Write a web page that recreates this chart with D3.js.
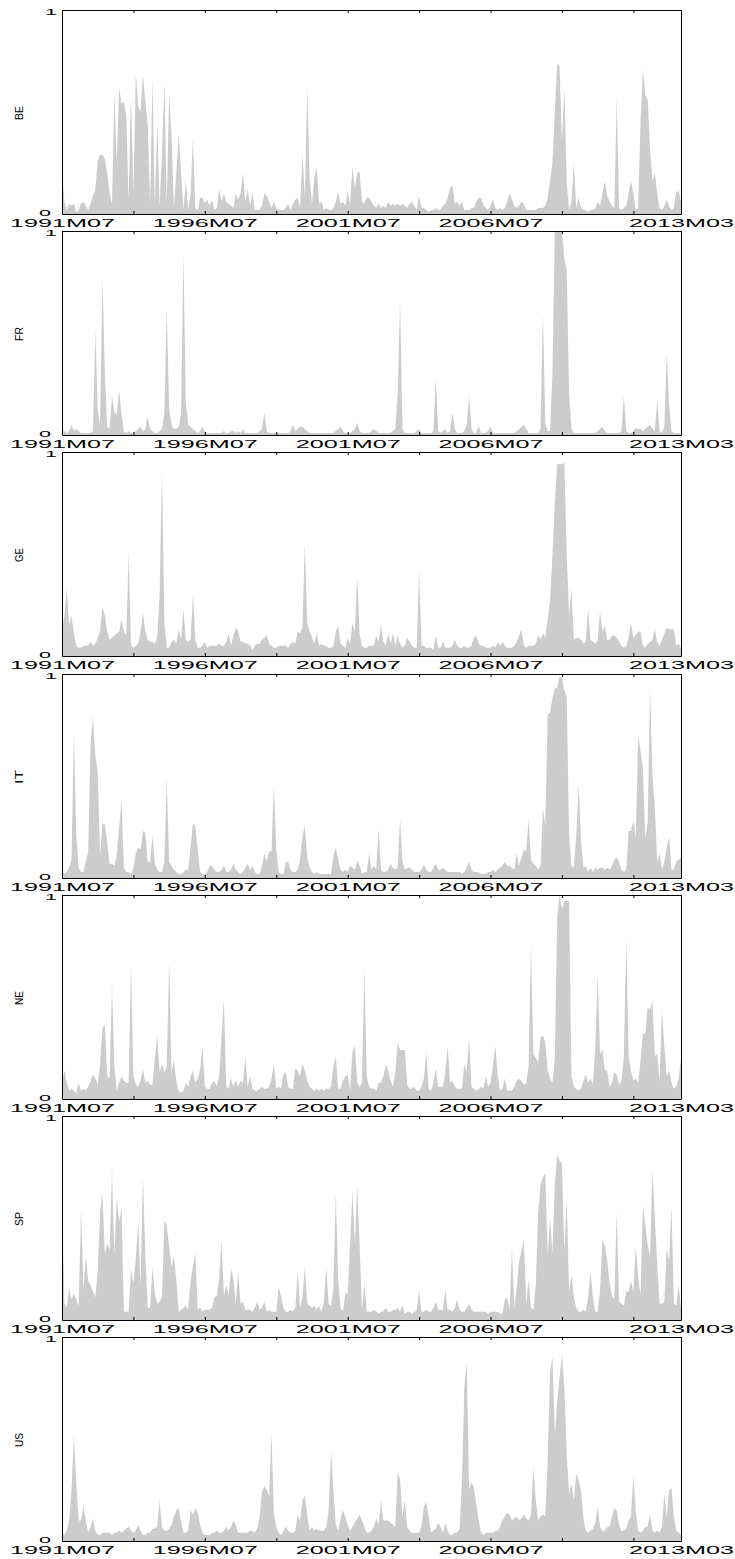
<!DOCTYPE html>
<html>
<head>
<meta charset="utf-8">
<script src="https://cdn.jsdelivr.net/npm/d3@7"></script>
<style>
  body { margin: 0; background: #fff; }
  svg { display: block; font-family: "Liberation Sans", Arial, Helvetica, sans-serif; }
</style>
</head>
<body>
<svg id="chart" width="735" height="1559"></svg>
<script>
// monthly observations 1991M07 .. 2013M03 (index 0..260)
const tickIdx = [0, 30, 60, 90, 120, 150, 180, 210, 240, 260];
const labelIdx = [0, 60, 120, 180, 260];
const labelText = ["1991M07", "1996M07", "2001M07", "2006M07", "2013M03"];
const countries = ["BE", "FR", "GE", "IT", "NE", "SP", "US"];

const BE = [
  0.23,0.06,0.02,0.05,0.04,0.05,0.01,0.02,0.05,0.06,
  0.04,0.02,0.05,0.09,0.12,0.26,0.29,0.29,0.27,0.2,
  0.1,0.05,0.59,0.25,0.62,0.54,0.55,0.48,0.07,0.59,
  0.1,0.69,0.53,0.5,0.68,0.56,0.44,0.05,0.66,0.04,
  0.44,0.04,0.3,0.64,0.05,0.59,0.39,0.03,0.2,0.39,
  0.2,0.02,0.16,0.02,0.1,0.37,0.03,0.02,0.08,0.08,
  0.05,0.07,0.04,0.07,0.02,0.03,0.12,0.06,0.1,0.06,
  0.05,0.04,0.03,0.1,0.07,0.1,0.2,0.06,0.12,0.04,
  0.1,0.02,0.02,0.02,0.04,0.1,0.09,0.06,0.03,0.06,
  0.03,0.02,0.02,0.02,0.03,0.05,0.02,0.05,0.07,0.08,
  0.03,0.3,0.08,0.63,0.18,0.05,0.18,0.23,0.05,0.06,
  0.02,0.03,0.02,0.02,0.03,0.06,0.11,0.05,0.06,0.04,
  0.11,0.05,0.23,0.13,0.2,0.21,0.06,0.05,0.08,0.08,
  0.06,0.04,0.03,0.05,0.03,0.04,0.03,0.06,0.04,0.05,
  0.04,0.05,0.04,0.05,0.04,0.03,0.05,0.06,0.04,0.02,
  0.09,0.03,0.03,0.02,0.01,0.02,0.02,0.03,0.02,0.02,
  0.04,0.05,0.08,0.13,0.14,0.05,0.06,0.04,0.06,0.02,
  0.02,0.02,0.03,0.03,0.06,0.08,0.08,0.04,0.03,0.02,
  0.04,0.07,0.03,0.02,0.03,0.02,0.03,0.06,0.1,0.07,
  0.04,0.03,0.04,0.06,0.05,0.02,0.02,0.02,0.02,0.02,
  0.03,0.03,0.03,0.04,0.08,0.16,0.25,0.5,0.74,0.72,
  0.35,0.62,0.15,0.02,0.06,0.25,0.03,0.08,0.03,0.02,
  0.02,0.01,0.02,0.02,0.03,0.06,0.04,0.1,0.16,0.09,
  0.06,0.04,0.03,0.57,0.03,0.02,0.03,0.04,0.1,0.16,
  0.1,0.02,0.03,0.45,0.71,0.58,0.56,0.32,0.16,0.2,
  0.1,0.03,0.02,0.04,0.07,0.04,0.02,0.03,0.11,0.11,
  0.06
];

const FR = [
  0.02,0.02,0.01,0.02,0.05,0.02,0.03,0.02,0.01,0.01,
  0.01,0.01,0.01,0.02,0.51,0.12,0.05,0.78,0.3,0.04,
  0.03,0.19,0.11,0.1,0.22,0.1,0.02,0.01,0.02,0.01,
  0.01,0.02,0.03,0.04,0.02,0.03,0.09,0.03,0.02,0.01,
  0.01,0.02,0.03,0.11,0.62,0.13,0.05,0.03,0.03,0.04,
  0.1,0.89,0.16,0.05,0.04,0.03,0.02,0.01,0.02,0.04,
  0.02,0.01,0.01,0.01,0.01,0.01,0.01,0.01,0.02,0.01,
  0.01,0.02,0.02,0.01,0.02,0.01,0.03,0.01,0.01,0.01,
  0.01,0.01,0.01,0.02,0.03,0.11,0.02,0.01,0.01,0.01,
  0.01,0.01,0.01,0.01,0.01,0.01,0.02,0.05,0.02,0.03,
  0.04,0.04,0.03,0.02,0.01,0.01,0.01,0.01,0.01,0.01,
  0.01,0.01,0.01,0.01,0.01,0.02,0.03,0.04,0.02,0.01,
  0.01,0.01,0.02,0.03,0.06,0.02,0.01,0.01,0.01,0.01,
  0.02,0.03,0.02,0.01,0.01,0.01,0.01,0.01,0.01,0.02,
  0.03,0.2,0.66,0.03,0.01,0.01,0.01,0.01,0.01,0.02,
  0.03,0.01,0.01,0.01,0.01,0.01,0.02,0.28,0.02,0.01,
  0.02,0.03,0.01,0.02,0.11,0.03,0.01,0.01,0.01,0.02,
  0.05,0.19,0.03,0.01,0.01,0.045,0.01,0.01,0.01,0.02,
  0.04,0.01,0.01,0.01,0.01,0.01,0.01,0.01,0.01,0.01,
  0.01,0.02,0.03,0.04,0.05,0.03,0.01,0.01,0.01,0.01,
  0.01,0.03,0.6,0.06,0.02,0.02,0.3,1.0,1.0,1.0,
  1.0,0.86,0.81,0.2,0.03,0.01,0.01,0.01,0.01,0.01,
  0.01,0.01,0.01,0.01,0.01,0.02,0.03,0.04,0.02,0.01,
  0.01,0.01,0.01,0.01,0.01,0.02,0.19,0.02,0.01,0.01,
  0.02,0.035,0.03,0.03,0.02,0.03,0.04,0.05,0.03,0.02,
  0.17,0.02,0.01,0.04,0.4,0.15,0.02,0.01,0.01,0.01,
  0.01
];

const GE = [
  0.13,0.2,0.33,0.15,0.2,0.11,0.05,0.04,0.04,0.05,
  0.05,0.05,0.07,0.05,0.06,0.09,0.12,0.24,0.2,0.12,
  0.08,0.09,0.1,0.11,0.12,0.18,0.12,0.1,0.5,0.05,
  0.04,0.05,0.06,0.12,0.21,0.12,0.08,0.07,0.07,0.06,
  0.09,0.3,0.91,0.16,0.04,0.04,0.07,0.08,0.06,0.13,
  0.08,0.23,0.08,0.07,0.08,0.3,0.08,0.04,0.04,0.05,
  0.07,0.04,0.05,0.05,0.05,0.05,0.06,0.05,0.05,0.07,
  0.11,0.05,0.1,0.14,0.12,0.07,0.07,0.06,0.06,0.05,
  0.03,0.05,0.06,0.06,0.08,0.09,0.1,0.06,0.05,0.04,
  0.04,0.05,0.05,0.05,0.05,0.04,0.06,0.07,0.06,0.12,
  0.11,0.14,0.56,0.16,0.12,0.09,0.06,0.11,0.05,0.06,
  0.05,0.05,0.04,0.04,0.05,0.12,0.15,0.06,0.05,0.04,
  0.09,0.06,0.16,0.12,0.39,0.11,0.05,0.04,0.04,0.05,
  0.05,0.05,0.1,0.07,0.15,0.07,0.05,0.11,0.06,0.11,
  0.05,0.1,0.06,0.04,0.05,0.09,0.07,0.05,0.04,0.04,
  0.42,0.05,0.05,0.04,0.04,0.04,0.03,0.1,0.04,0.04,
  0.07,0.04,0.04,0.04,0.05,0.08,0.05,0.04,0.04,0.05,
  0.04,0.04,0.05,0.09,0.1,0.06,0.05,0.05,0.04,0.04,
  0.04,0.05,0.04,0.07,0.05,0.07,0.05,0.04,0.04,0.04,
  0.05,0.07,0.1,0.13,0.05,0.04,0.05,0.05,0.05,0.06,
  0.1,0.08,0.11,0.09,0.18,0.27,0.49,0.75,0.94,0.94,
  0.94,0.95,0.5,0.2,0.33,0.08,0.09,0.09,0.08,0.06,
  0.07,0.23,0.08,0.07,0.06,0.08,0.22,0.12,0.15,0.08,
  0.08,0.1,0.1,0.09,0.07,0.05,0.04,0.05,0.09,0.16,
  0.09,0.1,0.12,0.12,0.05,0.04,0.06,0.07,0.08,0.13,
  0.07,0.05,0.08,0.11,0.14,0.13,0.13,0.13,0.05,0.06,
  0.04
];

const IT = [
  0.03,0.02,0.03,0.05,0.09,0.71,0.21,0.05,0.03,0.03,
  0.08,0.13,0.66,0.79,0.6,0.52,0.11,0.27,0.26,0.17,
  0.07,0.07,0.06,0.11,0.25,0.38,0.05,0.03,0.03,0.02,
  0.05,0.12,0.15,0.14,0.23,0.22,0.08,0.08,0.21,0.07,
  0.04,0.03,0.03,0.08,0.49,0.08,0.06,0.04,0.03,0.02,
  0.02,0.03,0.04,0.04,0.15,0.27,0.25,0.14,0.03,0.02,
  0.02,0.03,0.06,0.06,0.04,0.03,0.03,0.04,0.06,0.03,
  0.03,0.04,0.07,0.04,0.03,0.02,0.03,0.05,0.07,0.04,
  0.06,0.03,0.02,0.02,0.06,0.12,0.08,0.13,0.13,0.46,
  0.14,0.03,0.02,0.02,0.08,0.08,0.04,0.03,0.03,0.04,
  0.09,0.2,0.26,0.1,0.05,0.03,0.02,0.03,0.02,0.02,
  0.02,0.02,0.02,0.02,0.11,0.15,0.09,0.04,0.03,0.04,
  0.03,0.06,0.05,0.04,0.085,0.06,0.02,0.03,0.03,0.12,
  0.04,0.06,0.04,0.24,0.04,0.03,0.03,0.04,0.07,0.05,
  0.04,0.05,0.29,0.08,0.04,0.05,0.05,0.04,0.03,0.03,
  0.03,0.04,0.065,0.04,0.03,0.03,0.05,0.07,0.04,0.04,
  0.05,0.04,0.03,0.03,0.03,0.03,0.03,0.03,0.02,0.03,
  0.05,0.08,0.04,0.03,0.03,0.03,0.02,0.02,0.02,0.03,
  0.03,0.04,0.03,0.04,0.05,0.06,0.08,0.06,0.06,0.05,
  0.04,0.12,0.06,0.1,0.14,0.13,0.29,0.09,0.07,0.06,
  0.04,0.06,0.34,0.26,0.8,0.81,0.88,0.93,0.93,0.99,
  0.98,0.92,0.89,0.21,0.06,0.05,0.21,0.46,0.18,0.05,
  0.06,0.03,0.05,0.03,0.05,0.04,0.05,0.05,0.04,0.05,
  0.04,0.06,0.09,0.1,0.08,0.04,0.03,0.04,0.23,0.23,
  0.28,0.2,0.69,0.63,0.53,0.2,0.27,0.93,0.5,0.35,
  0.08,0.12,0.04,0.08,0.15,0.2,0.04,0.04,0.08,0.09,
  0.1
];

const NE = [
  0.08,0.14,0.08,0.04,0.05,0.04,0.03,0.08,0.04,0.05,
  0.04,0.06,0.09,0.12,0.1,0.07,0.17,0.35,0.36,0.11,
  0.1,0.56,0.16,0.04,0.08,0.11,0.09,0.08,0.08,0.66,
  0.11,0.07,0.06,0.09,0.15,0.08,0.09,0.07,0.07,0.2,
  0.31,0.13,0.17,0.13,0.16,0.68,0.13,0.19,0.09,0.04,
  0.03,0.04,0.08,0.06,0.11,0.14,0.08,0.1,0.14,0.26,
  0.06,0.05,0.05,0.08,0.09,0.06,0.11,0.3,0.49,0.06,
  0.05,0.1,0.06,0.09,0.06,0.09,0.08,0.21,0.06,0.11,
  0.05,0.04,0.04,0.05,0.06,0.05,0.05,0.06,0.1,0.17,
  0.05,0.06,0.05,0.12,0.13,0.06,0.05,0.05,0.15,0.14,
  0.11,0.17,0.14,0.09,0.06,0.05,0.04,0.05,0.04,0.05,
  0.04,0.05,0.05,0.06,0.16,0.21,0.05,0.05,0.09,0.11,
  0.12,0.04,0.23,0.26,0.08,0.06,0.08,0.63,0.11,0.06,
  0.05,0.05,0.04,0.08,0.08,0.11,0.17,0.14,0.09,0.06,
  0.13,0.28,0.24,0.24,0.24,0.07,0.05,0.05,0.06,0.04,
  0.04,0.06,0.1,0.23,0.05,0.04,0.08,0.15,0.06,0.06,
  0.06,0.13,0.26,0.08,0.09,0.06,0.05,0.05,0.05,0.17,
  0.13,0.3,0.06,0.05,0.04,0.05,0.06,0.05,0.11,0.06,
  0.08,0.16,0.26,0.12,0.04,0.05,0.1,0.04,0.04,0.04,
  0.06,0.09,0.1,0.09,0.07,0.08,0.16,0.75,0.22,0.2,
  0.18,0.3,0.31,0.28,0.14,0.1,0.08,0.2,0.89,1.0,
  0.93,0.97,0.97,0.97,0.11,0.06,0.05,0.04,0.05,0.09,
  0.12,0.08,0.1,0.07,0.25,0.61,0.22,0.24,0.14,0.14,
  0.06,0.08,0.13,0.12,0.07,0.09,0.21,0.79,0.21,0.14,
  0.09,0.1,0.08,0.19,0.32,0.32,0.45,0.44,0.48,0.21,
  0.22,0.09,0.44,0.26,0.11,0.14,0.08,0.05,0.06,0.1,
  0.2
];

const SP = [
  0.66,0.08,0.06,0.16,0.1,0.13,0.1,0.07,0.54,0.15,
  0.31,0.19,0.17,0.14,0.11,0.24,0.53,0.62,0.32,0.38,
  0.34,0.74,0.32,0.6,0.48,0.55,0.04,0.04,0.04,0.25,
  0.18,0.3,0.48,0.17,0.71,0.32,0.06,0.06,0.26,0.13,
  0.08,0.09,0.11,0.49,0.46,0.36,0.26,0.31,0.2,0.04,
  0.05,0.06,0.07,0.05,0.19,0.26,0.33,0.05,0.06,0.04,
  0.05,0.05,0.05,0.06,0.11,0.12,0.2,0.39,0.12,0.17,
  0.12,0.25,0.2,0.08,0.24,0.08,0.09,0.05,0.05,0.05,
  0.04,0.06,0.09,0.05,0.06,0.09,0.04,0.05,0.04,0.04,
  0.04,0.16,0.12,0.06,0.04,0.04,0.05,0.04,0.06,0.23,
  0.06,0.11,0.26,0.08,0.07,0.06,0.07,0.05,0.07,0.04,
  0.09,0.26,0.08,0.07,0.16,0.62,0.2,0.06,0.04,0.13,
  0.13,0.37,0.63,0.37,0.66,0.37,0.05,0.18,0.04,0.04,
  0.04,0.05,0.04,0.03,0.04,0.04,0.06,0.04,0.04,0.05,
  0.05,0.06,0.04,0.07,0.03,0.04,0.04,0.03,0.04,0.05,
  0.15,0.04,0.04,0.05,0.04,0.04,0.06,0.09,0.05,0.05,
  0.05,0.15,0.05,0.05,0.04,0.06,0.1,0.05,0.04,0.04,
  0.06,0.08,0.05,0.04,0.04,0.04,0.04,0.04,0.04,0.03,
  0.04,0.04,0.04,0.04,0.03,0.03,0.1,0.11,0.05,0.35,
  0.06,0.16,0.29,0.34,0.39,0.08,0.2,0.06,0.05,0.17,
  0.53,0.66,0.7,0.72,0.32,0.5,0.33,0.66,0.81,0.78,
  0.77,0.34,0.59,0.14,0.22,0.11,0.06,0.04,0.04,0.05,
  0.04,0.11,0.24,0.11,0.04,0.04,0.14,0.4,0.36,0.29,
  0.18,0.12,0.1,0.53,0.09,0.08,0.07,0.14,0.14,0.19,
  0.14,0.36,0.21,0.12,0.56,0.47,0.37,0.31,0.74,0.5,
  0.27,0.08,0.08,0.09,0.35,0.29,0.56,0.08,0.07,0.17,
  0.06
];

const US = [
  0.04,0.03,0.05,0.1,0.25,0.52,0.28,0.1,0.1,0.17,
  0.1,0.04,0.07,0.11,0.05,0.03,0.03,0.04,0.04,0.04,
  0.04,0.03,0.04,0.04,0.05,0.04,0.05,0.06,0.07,0.05,
  0.04,0.05,0.08,0.05,0.03,0.03,0.04,0.04,0.06,0.06,
  0.07,0.2,0.07,0.05,0.05,0.06,0.08,0.12,0.15,0.16,
  0.1,0.04,0.04,0.05,0.15,0.13,0.16,0.14,0.08,0.04,
  0.03,0.03,0.03,0.04,0.04,0.05,0.04,0.04,0.05,0.07,
  0.05,0.07,0.1,0.08,0.04,0.04,0.04,0.04,0.04,0.05,
  0.05,0.04,0.06,0.12,0.24,0.27,0.25,0.22,0.53,0.13,
  0.07,0.04,0.03,0.05,0.07,0.05,0.04,0.04,0.05,0.13,
  0.1,0.2,0.22,0.13,0.05,0.07,0.05,0.06,0.05,0.05,
  0.05,0.07,0.15,0.44,0.25,0.08,0.05,0.11,0.15,0.12,
  0.08,0.05,0.07,0.09,0.11,0.13,0.1,0.07,0.04,0.04,
  0.05,0.07,0.11,0.08,0.2,0.1,0.1,0.1,0.09,0.08,
  0.07,0.34,0.3,0.12,0.2,0.07,0.05,0.04,0.04,0.04,
  0.04,0.07,0.17,0.19,0.12,0.04,0.05,0.06,0.09,0.07,
  0.04,0.09,0.05,0.03,0.03,0.04,0.04,0.06,0.3,0.75,
  0.88,0.25,0.29,0.26,0.18,0.1,0.04,0.03,0.04,0.04,
  0.04,0.04,0.05,0.05,0.07,0.1,0.12,0.14,0.13,0.1,
  0.11,0.12,0.1,0.11,0.13,0.11,0.1,0.13,0.36,0.2,
  0.1,0.12,0.13,0.12,0.4,0.83,0.9,0.52,0.68,0.8,
  0.91,0.75,0.42,0.23,0.28,0.2,0.33,0.3,0.25,0.11,
  0.05,0.04,0.05,0.06,0.09,0.17,0.07,0.05,0.05,0.07,
  0.07,0.12,0.16,0.15,0.08,0.05,0.05,0.06,0.1,0.12,
  0.32,0.15,0.05,0.04,0.05,0.07,0.07,0.13,0.05,0.04,
  0.05,0.04,0.07,0.23,0.12,0.25,0.26,0.12,0.05,0.04,
  0.03
];

const series = [BE, FR, GE, IT, NE, SP, US];

const svg = d3.select("#chart");
svg.append("rect").attr("width", 735).attr("height", 1559).attr("fill", "#fff");

const left = 62, right = 681;
const step = 221.2, panelH = 203.5, firstTop = 10;
const fontFamily = '"Liberation Sans", Arial, Helvetica, sans-serif';
const stretch = 2.4; // tick digits are drawn wide, as in the original figure

const x = d3.scaleLinear().domain([0, 260]).range([left, right]);
const labelOf = new Map(labelIdx.map((d, i) => [d, labelText[i]]));

series.forEach((vals, k) => {
  const top = Math.round(firstTop + k * step);
  const bottom = Math.round(top + panelH);
  const y = d3.scaleLinear().domain([0, 1]).range([bottom, top]);

  const g = svg.append("g");

  const area = d3.area()
    .x((d, i) => x(i))
    .y0(y(0))
    .y1(d => y(Math.min(d, 1)));

  g.append("path")
    .datum(vals)
    .attr("fill", "#cccccc")
    .attr("d", area);

  // bottom axis with date labels
  const xb = g.append("g")
    .attr("transform", `translate(0,${bottom})`)
    .call(d3.axisBottom(x).tickValues(tickIdx).tickSizeInner(-3).tickSizeOuter(0)
      .tickPadding(6).tickFormat(d => labelOf.get(d) || ""));
  xb.selectAll("text")
    .attr("font-family", fontFamily)
    .attr("font-size", 10.5)
    .attr("fill", "#000")
    .attr("textLength", d => labelOf.has(d) ? 105 : null)
    .attr("lengthAdjust", "spacingAndGlyphs");

  // top axis, ticks only
  g.append("g")
    .attr("transform", `translate(0,${top})`)
    .call(d3.axisTop(x).tickValues(tickIdx).tickSizeInner(-3).tickSizeOuter(0).tickFormat(""));

  // left axis 0 / 1
  const ya = g.append("g")
    .attr("transform", `translate(${left},0)`)
    .call(d3.axisLeft(y).tickValues([0, 1]).tickSize(0).tickFormat(d3.format("d")));
  ya.selectAll("text")
    .attr("font-family", fontFamily)
    .attr("font-size", 9)
    .attr("fill", "#000")
    .attr("x", d => (d === 1 ? -5 : -11) / stretch)
    .attr("dy", d => d === 1 ? "0.55em" : "0.2em")
    .attr("transform", `scale(${stretch},1)`);

  // right border
  g.append("g")
    .attr("transform", `translate(${right},0)`)
    .call(d3.axisRight(y).tickValues([]).tickSizeOuter(0));

  // series name
  g.append("text")
    .attr("transform", `translate(23,${(top + bottom) / 2 + 1}) rotate(-90)`)
    .attr("text-anchor", "middle")
    .attr("font-family", fontFamily)
    .attr("font-size", 11.5)
    .attr("textLength", 14)
    .attr("lengthAdjust", "spacingAndGlyphs")
    .text(countries[k]);
});
</script>
</body>
</html>
